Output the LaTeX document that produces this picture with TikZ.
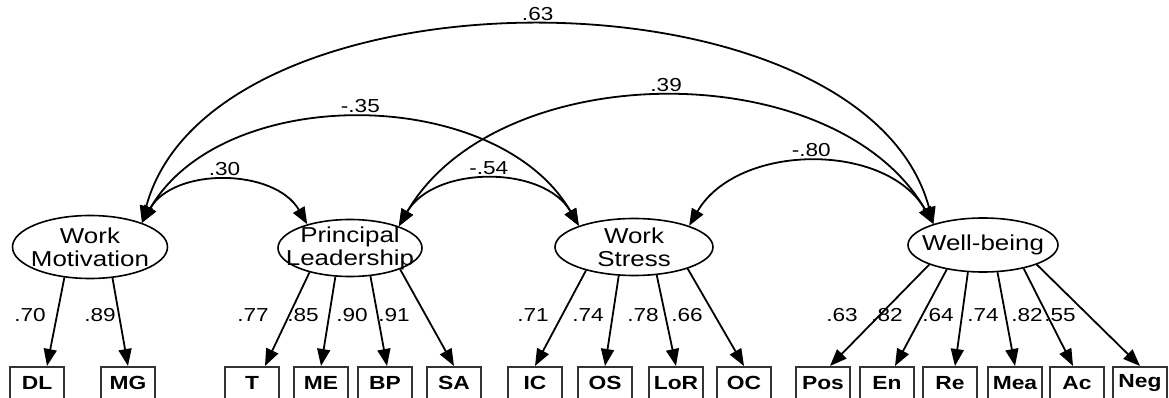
\documentclass[tikz,border=0pt]{standalone}
\usepackage{fontspec}
\setmainfont{Liberation Sans}[FakeStretch=1.2]
\usetikzlibrary{shapes.geometric,arrows.meta}

\begin{document}
\begin{tikzpicture}[x=0.5pt,y=0.5pt,
        latent/.style={draw, ellipse, line width=0.8pt, inner sep=0pt},
        lvtext/.style={align=center, inner sep=0pt, font=\fontsize{10.8}{11.5}\selectfont},
        indic/.style={draw=black!80, rectangle, line width=1pt, minimum width=27pt, minimum height=16pt, inner sep=0pt, font=\bfseries\fontsize{9.5}{11}\selectfont},
        coef/.style={inner sep=2.5pt, font=\fontsize{9.4}{10}\selectfont},
        load/.style={-{Triangle[length=8.5pt,width=6.5pt]}, line width=0.9pt},
        cov/.style={{Triangle[length=8.5pt,width=6.5pt]}-{Triangle[length=8.5pt,width=6.5pt]}, line width=0.9pt}]

            \useasboundingbox (0,0) rectangle (1169,397);

            %latent variables
            \node[latent, minimum width=77.5pt, minimum height=31.5pt] (wm) at (90,150) {};
            \node[latent, minimum width=72pt, minimum height=28.5pt] (pl) at (350,149) {};
            \node[latent, minimum width=79pt, minimum height=28.5pt] (ws) at (634,150) {};
            \node[latent, minimum width=75pt, minimum height=27pt] (wb) at (983,152) {};

            \node[lvtext] (wmt) at (wm) {Work\\Motivation};
            \node[lvtext] (plt) at (pl) {Principal\\Leadership};
            \node[lvtext] (wst) at (ws) {Work\\Stress};
            \node[lvtext] (wbt) at (wb) {Well-being};

            %observed indicators
            \node[indic] (dl) at (37,14) {DL};
            \node[indic] (mg) at (128,14) {MG};
            \node[indic] (t) at (252,14) {T};
            \node[indic] (me) at (321,14) {ME};
            \node[indic] (bp) at (385,14) {BP};
            \node[indic] (sa) at (454,14) {SA};
            \node[indic] (ic) at (535,14) {IC};
            \node[indic] (os) at (605,14) {OS};
            \node[indic] (lor) at (676,14) {LoR};
            \node[indic] (oc) at (744,14) {OC};
            \node[indic] (pos) at (823,14) {Pos};
            \node[indic] (en) at (887,14) {En};
            \node[indic] (re) at (950,14) {Re};
            \node[indic] (mea) at (1015,14) {Mea};
            \node[indic] (ac) at (1077,14) {Ac};
            \node[indic] (neg) at (1140,14) {Neg};

            %factor loadings
            \node[coef] (ldl) at (30,82) {.70};
            \node[coef] (lmg) at (100,82) {.89};
            \node[coef] (lt) at (253,82) {.77};
            \node[coef] (lme) at (303,82) {.85};
            \node[coef] (lbp) at (352,82) {.90};
            \node[coef] (lsa) at (394,82) {.91};
            \node[coef] (lic) at (533,82) {.71};
            \node[coef] (los) at (588,82) {.74};
            \node[coef] (llor) at (643,82) {.78};
            \node[coef] (loc) at (687,82) {.66};
            \node[coef] (lpos) at (842,82) {.63};
            \node[coef] (len) at (887,82) {.82};
            \node[coef] (lre) at (938,82) {.64};
            \node[coef] (lmea) at (983,82) {.74};
            \node[coef] (lac) at (1027,82) {.82};
            \node[coef] (lneg) at (1060,82) {.55};

            \draw[load] (wm.230) -- ([xshift=5pt]dl.north);
            \draw[load] (wm.306) -- (mg.north);

            \draw[load] (pl.211) -- ([xshift=6.5pt]t.north);
            \draw[load] (pl.243) -- (me.north);
            \draw[load] (pl.306) -- ([xshift=1pt]bp.north);
            \draw[load] (pl.337) -- (sa.north);

            \draw[load] (ws.206) -- (ic.north);
            \draw[load] (ws.242) -- (os.north);
            \draw[load] (ws.309) -- (lor.north);
            \draw[load] (ws.338) -- (oc.north);

            \draw[load] (wb.200) -- ([xshift=3.5pt]pos.north);
            \draw[load] (wb.214) -- ([xshift=4pt]en.north);
            \draw[load] (wb.241) -- ([xshift=2.5pt]re.north);
            \draw[load] (wb.298) -- (mea.north);
            \draw[load] (wb.330) -- ([xshift=-2pt]ac.north);
            \draw[load] (wb.340) -- (neg.north);

            %correlations between the factors
            \draw[cov] (wm.25) to[out=60, in=120] node[coef, above] (cwmpl) {.30} (pl.151);
            \draw[cov] (wm.25) to[out=60, in=120, looseness=0.95] node[coef, above] (cwmws) {-.35} (ws.159);
            \draw[cov] (wm.25) to[out=75, in=105, looseness=0.88] node[coef, above] (cwmwb) {.63} (wb.157);
            \draw[cov] (pl.24) to[out=60, in=120] node[coef, above] (cplws) {-.54} (ws.159);
            \draw[cov] (pl.24) to[out=60, in=120, looseness=0.94] node[coef, above] (cplwb) {.39} (wb.157);
            \draw[cov] (ws.21) to[out=60, in=120] node[coef, above] (cwswb) {-.80} (wb.157);

        \end{tikzpicture}
\end{document}
